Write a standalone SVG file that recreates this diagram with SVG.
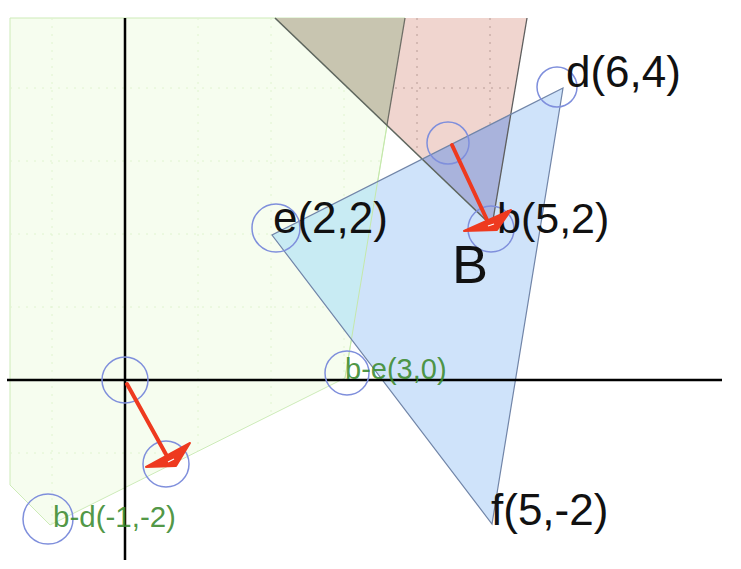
<svg xmlns="http://www.w3.org/2000/svg" width="741" height="569" viewBox="0 0 741 569">
<style>
.lbl{font-family:"Liberation Sans",Arial,sans-serif;fill:#111}
.glbl{font-family:"Liberation Sans",Arial,sans-serif;fill:#3b8a2e;fill-opacity:0.9}
.pt{fill:none;stroke:#7f8fdc;stroke-width:1.5}
.arr{stroke:#ee3a1f;stroke-width:4;fill:none;stroke-linecap:round}
.head{fill:#ee3a1f;stroke:#ee3a1f;stroke-width:2;stroke-linejoin:round}
.grid{stroke-width:1;stroke-dasharray:2 6;fill:none}
</style>
<defs>
<clipPath id="cg"><polygon points="10,18 405,18 345,378 50,525 10,485"/></clipPath>
<clipPath id="cp"><polygon points="275,18 527,18 492,226"/></clipPath>
</defs>
<rect width="741" height="569" fill="#ffffff"/>
<g id="shapes">
<polygon id="green" points="10,18 405,18 345,378 50,525 10,485" fill="#f6fdef" stroke="#cdebb8" stroke-width="1"/>
<g clip-path="url(#cg)" class="grid" stroke="#e0f4d0">
<path d="M52,18V569M198,18V569M271,18V569M344,18V569M10,88H741M10,161H741M10,234H741M10,307H741M10,453H741"/>
</g>
<polygon id="pink" points="275,18 527,18 492,226" fill="#f0d5cf"/>
<g clip-path="url(#cp)" class="grid" stroke="#b89c96">
<path d="M417,18V300M490,18V300M275,88H560"/>
</g>
<polygon id="gray" points="275,18 405,18 387,125" fill="#c8c5b0"/>
<polygon id="blue" points="563,88 272,235 492,524" fill="#cfe3fa"/>
<polygon id="cyan" points="272,235 378,182 351,339" fill="#c8ebf3"/>
<polygon id="purple" points="422,159 511,114 492,226" fill="#a9b3dc"/>
<line x1="405" y1="18" x2="387" y2="125" stroke="#6e6e66" stroke-width="1.3"/>
<line x1="387" y1="125" x2="345" y2="378" stroke="#c4e8aa" stroke-width="1"/>
<line x1="275" y1="18" x2="492" y2="226" stroke="#5e665e" stroke-width="1.6"/>
<line x1="527" y1="18" x2="492" y2="226" stroke="#5e5e5e" stroke-width="1.3"/>
<polygon points="563,88 272,235 492,524" fill="none" stroke="#7185a8" stroke-width="1.2"/>
</g>
<g id="axes" stroke="#000" stroke-width="2.5">
<line x1="125" y1="18" x2="125" y2="560"/>
<line x1="7" y1="380" x2="722" y2="380"/>
</g>
<g id="node-d"><circle class="pt" cx="557" cy="87" r="20"/><text class="lbl" x="566" y="87" font-size="44">d(6,4)</text></g>
<g id="node-top"><circle class="pt" cx="448" cy="143" r="21"/></g>
<g id="node-e"><circle class="pt" cx="276" cy="228" r="24"/><text class="lbl" x="273" y="233" font-size="44">e(2,2)</text></g>
<g id="node-b"><circle class="pt" cx="491" cy="229" r="23"/><text class="lbl" x="497" y="233" font-size="43">b(5,2)</text></g>
<g id="node-B"><text class="lbl" x="452" y="283" font-size="54">B</text></g>
<g id="node-f"><text class="lbl" x="491" y="525" font-size="44">f(5,-2)</text></g>
<g id="node-be"><circle class="pt" cx="347" cy="373" r="22"/><text class="glbl" x="345" y="379" font-size="29">b-e(3,0)</text></g>
<g id="node-origin"><circle class="pt" cx="125" cy="380" r="23"/></g>
<g id="node-tip"><circle class="pt" cx="166" cy="464" r="23"/></g>
<g id="node-bd"><circle class="pt" cx="48" cy="519" r="25"/><text class="glbl" x="53" y="527" font-size="29.5">b-d(-1,-2)</text></g>
<g id="connectors">
<line class="arr" x1="452" y1="145" x2="488" y2="222"/>
<polygon class="head" points="464,231 511,210 497,230"/>
<line x1="488" y1="226" x2="494" y2="224" stroke="#fff" stroke-width="1.2"/>
<line class="arr" x1="127" y1="384" x2="168" y2="458"/>
<polygon class="head" points="146,467 190,443 176,466"/>
<line x1="168" y1="462" x2="174" y2="459" stroke="#fff" stroke-width="1.2"/>
</g>
</svg>
